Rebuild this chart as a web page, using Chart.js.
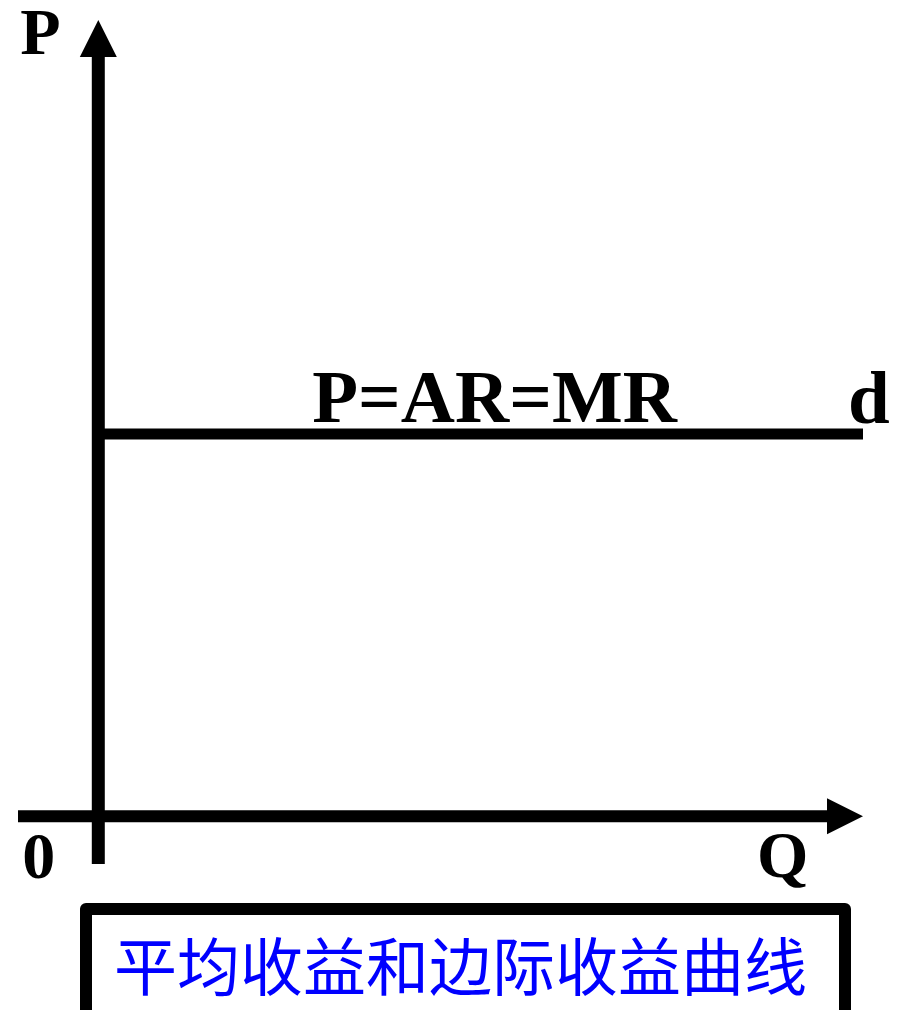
<!DOCTYPE html>
<html>
<head>
<meta charset="utf-8">
<script src="https://cdn.jsdelivr.net/npm/chart.js@4.4.1/dist/chart.umd.min.js"></script>
<style>
  html, body { margin: 0; padding: 0; background: #fff; width: 897px; height: 1010px; overflow: hidden; }
  #wrap { position: relative; width: 897px; height: 1010px; }
  #chart { position: absolute; left: 0; top: 0; }
  .caption {
    position: absolute; left: 80px; top: 903px;
    width: 725px; height: 150px;
    padding: 16px 0 0 22px;
    border: 12px solid #000; border-radius: 6px;
    font-family: "Noto Sans CJK SC", sans-serif; font-size: 63px; line-height: 63px;
    color: #0000ff; white-space: nowrap;
  }
</style>
</head>
<body>
<div id="wrap">
  <canvas id="chart" width="897" height="900"></canvas>
  <div class="caption">平均收益和边际收益曲线</div>
</div>
<script>
// ── Data ──
const demandQ = [0, 10];          // quantity range of the d line
const demandP = [4.8, 4.8];       // price is flat: P = AR = MR
const axisNames = ['P', 'Q'];     // y axis, x axis
const originLabel = '0';
const curveLabels = ['P=AR=MR', 'd'];

// axis extents (data units)
const qMin = -1.05, qMax = 10;
const pMin = -0.6, pMax = 10;

// ── Axes with arrowheads + labels ──
const econAxes = {
    id: 'econAxes',
    afterDatasetsDraw(chart) {
        const { ctx, scales: { x, y } } = chart;
        const x0 = x.getPixelForValue(0);
        const y0 = y.getPixelForValue(0);
        const head = 37;
        ctx.save();
        ctx.fillStyle = '#000';
        ctx.strokeStyle = '#000';
        ctx.lineCap = 'butt';

        // vertical P axis
        const yTop = y.getPixelForValue(pMax);
        ctx.lineWidth = 13;
        ctx.beginPath();
        ctx.moveTo(x0, y.getPixelForValue(pMin));
        ctx.lineTo(x0, yTop + head);
        ctx.stroke();
        ctx.beginPath();
        ctx.moveTo(x0, yTop);
        ctx.lineTo(x0 - 18.5, yTop + head);
        ctx.lineTo(x0 + 18.5, yTop + head);
        ctx.closePath();
        ctx.fill();

        // horizontal Q axis
        const xEnd = x.getPixelForValue(qMax);
        ctx.lineWidth = 12;
        ctx.beginPath();
        ctx.moveTo(x.getPixelForValue(qMin), y0);
        ctx.lineTo(xEnd - head + 1, y0);
        ctx.stroke();
        ctx.beginPath();
        ctx.moveTo(xEnd, y0);
        ctx.lineTo(xEnd - 36, y0 - 18);
        ctx.lineTo(xEnd - 36, y0 + 18);
        ctx.closePath();
        ctx.fill();

        // labels
        ctx.textBaseline = 'alphabetic';
        ctx.textAlign = 'left';
        ctx.font = 'bold 66px "Liberation Serif", serif';
        ctx.fillText(axisNames[0], x0 - 78, yTop + 34);
        ctx.fillText(originLabel, x0 - 76, y0 + 62);
        ctx.fillText(axisNames[1], xEnd - 106, y0 + 61);

        const dy = y.getPixelForValue(demandP[0]);
        ctx.font = 'bold 75px "Liberation Serif", serif';
        ctx.fillText(curveLabels[0], x0 + 214, dy - 12);
        ctx.fillText(curveLabels[1], xEnd - 15, dy - 11);
        ctx.restore();
    }
};

// ── Build Chart ──
const ctx = document.getElementById('chart').getContext('2d');
new Chart(ctx, {
    type: 'scatter',
    data: {
        datasets: [{
            label: 'd',
            data: demandQ.map((q, i) => ({ x: q, y: demandP[i] })),
            showLine: true,
            borderColor: '#000',
            borderWidth: 11,
            borderCapStyle: 'butt',
            pointRadius: 0,
            pointHoverRadius: 0,
            clip: false
        }]
    },
    options: {
        responsive: false,
        animation: false,
        events: [],
        layout: { padding: { left: 18, right: 34, top: 20, bottom: 36 } },
        plugins: {
            legend: { display: false },
            tooltip: { enabled: false }
        },
        scales: {
            x: { type: 'linear', min: qMin, max: qMax, display: false },
            y: { type: 'linear', min: pMin, max: pMax, display: false }
        }
    },
    plugins: [econAxes]
});
</script>
</body>
</html>
